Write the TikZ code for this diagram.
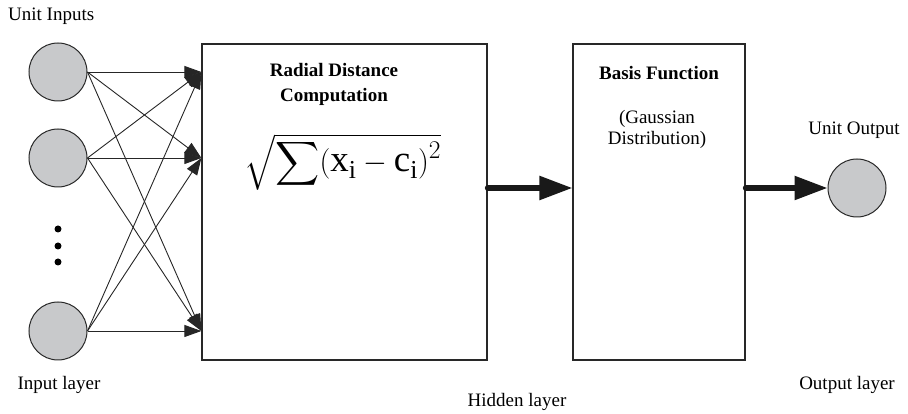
\documentclass[tikz,border=0pt]{standalone}
\usepackage{fontspec}
\setmainfont{Liberation Serif}
\usepackage{amsmath}
\usetikzlibrary{arrows.meta,positioning}
\definecolor{unitfill}{RGB}{200,201,203}
\definecolor{edge}{RGB}{40,40,40}

\begin{document}
\begin{tikzpicture}[
  x=1pt, y=1pt,
  font=\fontsize{19}{23}\selectfont,
  unit/.style={circle, draw=edge, line width=1pt, fill=unitfill, minimum size=58pt, inner sep=0pt},
  box/.style={rectangle, draw=edge, line width=1.2pt, minimum height=316pt, inner sep=0pt},
  dot/.style={circle, fill=black, minimum size=7pt, inner sep=0pt},
  arr/.style={-{Triangle[length=17pt,width=12pt]}, line width=0.9pt, black!85},
  bigarr/.style={-{Triangle[length=33pt,width=23pt]}, line width=5.5pt, line cap=round, black!90},
  lbl/.style={inner sep=0pt, align=center}
]
\useasboundingbox (0,0) rectangle (908,414);
\node[unit] (in1) at (58,342) {};
\node[unit] (in2) at (58,256) {};
\node[unit] (in3) at (58,83) {};
\node[dot] (d1) at (58,185) {};
\node[dot] (d2) at (58,168) {};
\node[dot] (d3) at (58,152) {};
\node[box, minimum width=285pt] (rdc) at (344.5,212) {};
\node[box, minimum width=172pt] (bf) at (659,212) {};
\node[unit] (out) at (857,226) {};
\node[lbl, anchor=west] (inlbl) at (8,398) {Unit Inputs};
\node[lbl] (inlayer) at (59,29) {Input layer};
\node[lbl] (hidlayer) at (517,12) {Hidden layer};
\node[lbl] (outlayer) at (847,29) {Output layer};
\node[lbl] (outlbl) at (854,284) {Unit Output};
\node[lbl, font=\fontsize{19}{25}\selectfont\bfseries] (rdctitle) at (334,329.5) {Radial Distance\\Computation};
\node[lbl, font=\fontsize{30}{34}\selectfont] (dist) at (343,252) {\scalebox{1.23}{$\sqrt{\displaystyle\sum(\mathrm{x}_{\mathrm{i}}-\mathrm{c}_{\mathrm{i}})^{2}}$}};
\node[lbl, font=\fontsize{19}{23}\selectfont\bfseries] (bftitle) at (659,341) {Basis Function};
\node[lbl, font=\fontsize{19}{21}\selectfont] (gauss) at (657,285) {(Gaussian\\Distribution)};
\draw[arr] (in1.east) -- (rdc.west |- in1);
\draw[arr] (in1.east) -- (rdc.west |- in2);
\draw[arr] (in1.east) -- (rdc.west |- in3);
\draw[arr] (in2.east) -- (rdc.west |- in1);
\draw[arr] (in2.east) -- (rdc.west |- in2);
\draw[arr] (in2.east) -- (rdc.west |- in3);
\draw[arr] (in3.east) -- (rdc.west |- in1);
\draw[arr] (in3.east) -- (rdc.west |- in2);
\draw[arr] (in3.east) -- (rdc.west |- in3);
\draw[bigarr] (rdc.east |- out) -- (bf.west |- out);
\draw[bigarr] (bf.east |- out) -- (out);
\end{tikzpicture}
\end{document}
